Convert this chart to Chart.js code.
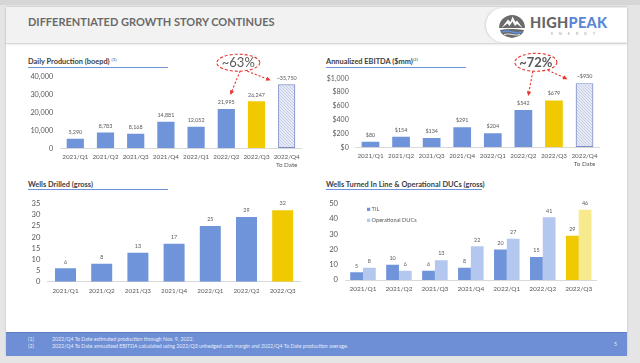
<!DOCTYPE html>
<html><head><meta charset="utf-8">
<script src="https://cdn.jsdelivr.net/npm/chart.js@4.4.0/dist/chart.umd.min.js"></script>
<style>
html,body{margin:0;padding:0;}
body{width:640px;height:363px;background:#e5e5e5;position:relative;overflow:hidden;font-family:Lato,"Liberation Sans",sans-serif;}
.abs{position:absolute;}
#topstrip{left:0;top:0;width:640px;height:5px;background:#d6d6d6;}
#slide{left:6px;top:7px;width:621px;height:348px;background:#fff;box-shadow:0 0 2px rgba(0,0,0,.18);}
#header{left:6px;top:7px;width:621px;height:36px;background:#f2f2f2;border-bottom:1px solid #d8d8d8;box-shadow:0 1px 2px rgba(0,0,0,.08);}
#title{left:28px;top:14px;font-weight:700;font-size:11px;color:#6a6a6a;white-space:nowrap;line-height:15px;}
#logo{left:486px;top:8px;width:141px;height:34px;background:#fff;border-radius:17px 0 0 17px;box-shadow:-1px 0 2px rgba(0,0,0,.12);}
#logotext{left:530px;top:15px;font-weight:900;font-size:14.5px;line-height:16px;white-space:nowrap;letter-spacing:0.3px;}
#energy{left:551px;top:31px;font-size:3.6px;letter-spacing:6px;color:#9a9a9a;white-space:nowrap;}
.ct{font-weight:700;font-size:7.4px;color:#404040;white-space:nowrap;line-height:10px;}
.ct sup{font-size:4.5px;font-weight:400;vertical-align:3px;line-height:0;}
.ul{height:1.3px;background:#7093d9;}
#footer{left:6px;top:332px;width:621px;height:23px;background:#6e8fd5;border-top:1px solid #5f7fc4;}
.fn{font-size:5.2px;color:#e6ecf8;white-space:nowrap;line-height:7px;}
canvas{position:absolute;}
</style></head>
<body>
<div class="abs" id="topstrip"></div>
<div class="abs" id="slide"></div>
<div class="abs" id="header"></div>
<div class="abs" id="title">DIFFERENTIATED GROWTH STORY CONTINUES</div>
<div class="abs" id="logo"></div>
<svg class="abs" style="left:496px;top:11px" width="32" height="29" viewBox="0 0 32 29">
  <path d="M3 17 A13 13 0 0 1 29 17 Z" fill="#6b6b6b"/>
  <path d="M5.5 17 L12 8.5 L14.5 11 L16.5 5.5 L19.5 11 L21 9.5 L26.5 17 L21 13 L19 15 L16.5 10.5 L13.5 15 L11.5 12.5 Z" fill="#ffffff"/>
  <path d="M4 19 Q16 17 28 19 Q27 25 16 27 Q5 25 4 19 Z" fill="#6b6b6b"/>
  <path d="M6 21 Q11 19.5 16 21 Q21 22.5 26 21" stroke="#5b8fe0" stroke-width="1.6" fill="none"/>
  <path d="M8 23.5 Q12 22.3 16 23.5 Q20 24.7 24 23.5" stroke="#ffffff" stroke-width="0.8" fill="none"/>
</svg>
<div class="abs" id="logotext"><span style="color:#666">HIGH</span><span style="color:#5a86d6">PEAK</span></div>
<div class="abs" id="energy">ENERGY</div>

<div class="abs ct" style="left:28px;top:57px">Daily Production (boepd) <sup>(1)</sup></div>
<div class="abs ul" style="left:28px;top:66.5px;width:140px"></div>
<div class="abs ct" style="left:326px;top:57px">Annualized EBITDA ($mm)<sup>(2)</sup></div>
<div class="abs ul" style="left:326px;top:66.5px;width:140px"></div>
<div class="abs ct" style="left:28px;top:179.5px">Wells Drilled (gross)</div>
<div class="abs ul" style="left:28px;top:189px;width:140px"></div>
<div class="abs ct" style="left:326px;top:179.5px">Wells Turned In Line &amp; Operational DUCs (gross)</div>
<div class="abs ul" style="left:326px;top:189px;width:156px"></div>

<div class="abs" id="footer"></div>
<div class="abs fn" style="left:28px;top:336px">(1)</div>
<div class="abs fn" style="left:52px;top:336px">2022/Q4 To Date estimated production through Nov. 9, 2022.</div>
<div class="abs fn" style="left:28px;top:342.5px">(2)</div>
<div class="abs fn" style="left:52px;top:342.5px">2022/Q4 To Date annualized EBITDA calculated using 2022/Q3 unhedged cash margin and 2022/Q4 To Date production average.</div>
<div class="abs fn" style="left:614px;top:340.5px">5</div>

<canvas id="c1" width="300" height="125" style="left:10px;top:50px"></canvas>
<canvas id="c2" width="300" height="125" style="left:310px;top:50px"></canvas>
<canvas id="c3" width="300" height="110" style="left:10px;top:192px"></canvas>
<canvas id="c4" width="300" height="110" style="left:310px;top:192px"></canvas>

<script>
// ---------------- DATA ----------------
const quarters8 = ['2021/Q1','2021/Q2','2021/Q3','2021/Q4','2022/Q1','2022/Q2','2022/Q3',['2022/Q4','To Date']];
const quarters7 = ['2021/Q1','2021/Q2','2021/Q3','2021/Q4','2022/Q1','2022/Q2','2022/Q3'];

const production = [5290, 8783, 8168, 14881, 12052, 21995, 26247, 35750];
const productionLabels = ['5,290','8,783','8,168','14,881','12,052','21,995','26,247','~35,750'];
const productionTicks = [0, 10000, 20000, 30000, 40000];
const productionTickLabels = ['0','10,000','20,000','30,000','40,000'];

const ebitda = [80, 154, 134, 291, 204, 542, 679, 930];
const ebitdaLabels = ['$80','$154','$134','$291','$204','$542','$679','~$930'];
const ebitdaTicks = [0, 200, 400, 600, 800, 1000];
const ebitdaTickLabels = ['$0','$200','$400','$600','$800','$1,000'];

const wellsDrilled = [6, 8, 13, 17, 25, 29, 32];
const wellsTicks = [0, 5, 10, 15, 20, 25, 30, 35];
const wellsTickLabels = ['0','5','10','15','20','25','30','35'];

const tilWells = [5, 10, 6, 8, 20, 15, 29];
const ducWells = [8, 6, 13, 22, 27, 41, 46];
const tilTicks = [0, 10, 20, 30, 40, 50];
const tilTickLabels = ['0','10','20','30','40','50'];

const growthProduction = '~63%';
const growthEbitda = '~72%';

// ---------------- STYLE ----------------
const BLUE = '#7094d9', YELLOW = '#f0c900', LBLUE = '#b4c7ee', LYELLOW = '#f6ea8c';
const RED = '#e8342e', TXT = '#595959';
Chart.defaults.font.family = 'Lato, "Liberation Sans", sans-serif';
Chart.defaults.color = TXT;
Chart.defaults.animation = false;

function hatchPattern() {
  const c = document.createElement('canvas'); c.width = 3; c.height = 3;
  const g = c.getContext('2d');
  g.fillStyle = '#e8ebf5'; g.fillRect(0,0,3,3);
  g.fillStyle = '#c5cce6';
  g.fillRect(0,0,1,1); g.fillRect(1,1,1,1); g.fillRect(2,2,1,1);
  return g.createPattern(c, 'repeat');
}
const HATCH = hatchPattern();

function makeValueLabels(labelSets, offset, size) {
  return { id: 'valueLabels', afterDatasetsDraw(chart) {
    const ctx = chart.ctx; ctx.save();
    ctx.font = size + 'px Lato, "Liberation Sans", sans-serif';
    ctx.fillStyle = TXT; ctx.textAlign = 'center'; ctx.textBaseline = 'middle';
    chart.data.datasets.forEach((ds, di) => {
      chart.getDatasetMeta(di).data.forEach((bar, i) => {
        ctx.fillText(labelSets[di][i], bar.x, bar.y - offset);
      });
    });
    ctx.restore();
  }};
}

function makeCallout(cfg) {
  return { id: 'callout', afterDraw(chart) {
    const ctx = chart.ctx, xs = chart.scales.x, ys = chart.scales.y, area = chart.chartArea;
    const cx = xs.getPixelForValue(cfg.anchor) + cfg.dx;
    const cy = area.top + cfg.dy;
    ctx.save();
    ctx.strokeStyle = RED; ctx.lineWidth = 1.1;
    ctx.setLineDash([3, 2]);
    ctx.beginPath(); ctx.ellipse(cx, cy, cfg.rx, cfg.ry, 0, 0, Math.PI * 2); ctx.stroke();
    cfg.arrows.forEach(a => {
      const sx = cx + a.sx, sy = cy + a.sy;
      const tx = xs.getPixelForValue(a.index) + a.tx;
      const ty = ys.getPixelForValue(cfg.values[a.index]) + a.ty;
      const ang = Math.atan2(ty - sy, tx - sx);
      const ex = tx - 3.5 * Math.cos(ang), ey = ty - 3.5 * Math.sin(ang);
      ctx.setLineDash([2.2, 1.8]);
      ctx.beginPath(); ctx.moveTo(sx, sy); ctx.lineTo(ex, ey); ctx.stroke();
      ctx.setLineDash([]);
      ctx.fillStyle = RED;
      ctx.beginPath();
      ctx.moveTo(tx, ty);
      ctx.lineTo(tx - 4.5 * Math.cos(ang) + 2.2 * Math.sin(ang), ty - 4.5 * Math.sin(ang) - 2.2 * Math.cos(ang));
      ctx.lineTo(tx - 4.5 * Math.cos(ang) - 2.2 * Math.sin(ang), ty - 4.5 * Math.sin(ang) + 2.2 * Math.cos(ang));
      ctx.closePath(); ctx.fill();
    });
    ctx.fillStyle = TXT;
    ctx.font = (cfg.bold ? '700 ' : '400 ') + '13px Lato, "Liberation Sans", sans-serif';
    ctx.textAlign = 'center'; ctx.textBaseline = 'middle';
    ctx.fillText(cfg.text, cx, cy + 0.5);
    ctx.restore();
  }};
}

function makeLegend(items) {
  return { id: 'miniLegend', afterDraw(chart) {
    const ctx = chart.ctx, area = chart.chartArea;
    ctx.save();
    ctx.font = '5.6px Lato, "Liberation Sans", sans-serif';
    ctx.textBaseline = 'middle'; ctx.textAlign = 'left';
    items.forEach((it, i) => {
      const x = area.left + 22, y = area.top + 5.8 + i * 11;
      ctx.fillStyle = it.color; ctx.fillRect(x, y - 1.6, 3.2, 3.2);
      ctx.fillStyle = TXT; ctx.fillText(it.label, x + 4.6, y);
    });
    ctx.restore();
  }};
}

function yAxis(min, max, ticks, tickLabels, width, pad, size) {
  return {
    min: min, max: max,
    afterBuildTicks: s => { s.ticks = ticks.map(v => ({ value: v })); },
    afterFit: s => { s.width = width; },
    grid: { display: false, drawTicks: false },
    border: { display: false },
    ticks: { padding: pad, autoSkip: false, font: { size: size }, color: TXT, callback: (v, i) => tickLabels[i] }
  };
}
function xAxis(height, pad, size) {
  return {
    afterFit: s => { s.height = height; },
    grid: { display: false, drawTicks: false },
    border: { display: true, color: '#d9d9d9', width: 1 },
    ticks: { padding: pad, font: { size: size, lineHeight: 1.15 }, color: TXT, maxRotation: 0, autoSkip: false }
  };
}

// ---------------- CHART 1: Daily Production ----------------
const prodColors = [BLUE, BLUE, BLUE, BLUE, BLUE, BLUE, YELLOW, HATCH];
const prodBorders = [0, 0, 0, 0, 0, 0, 0, 1.2];
new Chart(document.getElementById('c1'), {
  type: 'bar',
  data: { labels: quarters8, datasets: [{ data: production, backgroundColor: prodColors,
    borderColor: '#7d8ec9', borderWidth: prodBorders, borderSkipped: false,
    barPercentage: 0.57, categoryPercentage: 1 }] },
  options: {
    responsive: false,
    layout: { padding: { left: 0, right: 8.2, top: 26.7, bottom: 0 } },
    plugins: { legend: { display: false }, tooltip: { enabled: false } },
    scales: { x: xAxis(26.7, 5.5, 6.3), y: yAxis(0, 40000, productionTicks, productionTickLabels, 50.2, 7, 7.3) }
  },
  plugins: [makeValueLabels([productionLabels], 6.3, 5.4),
    makeCallout({ text: growthProduction, bold: false, anchor: 5, dx: 12, dy: -14, rx: 21.5, ry: 8.5, values: production,
      arrows: [{ sx: 2, sy: 8, index: 5, tx: 4, ty: -14 }, { sx: 9, sy: 8.5, index: 7, tx: -16, ty: -4 }] })]
});

// ---------------- CHART 2: Annualized EBITDA ----------------
const ebitdaColors = [BLUE, BLUE, BLUE, BLUE, BLUE, BLUE, YELLOW, HATCH];
const ebitdaBorders = [0, 0, 0, 0, 0, 0, 0, 1.2];
new Chart(document.getElementById('c2'), {
  type: 'bar',
  data: { labels: quarters8, datasets: [{ data: ebitda, backgroundColor: ebitdaColors,
    borderColor: '#7d8ec9', borderWidth: ebitdaBorders, borderSkipped: false,
    barPercentage: 0.58, categoryPercentage: 1 }] },
  options: {
    responsive: false,
    layout: { padding: { left: 0, right: 10.2, top: 28.3, bottom: 0 } },
    plugins: { legend: { display: false }, tooltip: { enabled: false } },
    scales: { x: xAxis(27.7, 5.5, 6.3), y: yAxis(0, 1000, ebitdaTicks, ebitdaTickLabels, 45.2, 6.5, 7) }
  },
  plugins: [makeValueLabels([ebitdaLabels], 6.8, 5.4),
    makeCallout({ text: growthEbitda, bold: true, anchor: 5, dx: 12.5, dy: -16, rx: 21, ry: 9, values: ebitda,
      arrows: [{ sx: -3, sy: 9, index: 5, tx: 4.8, ty: -14 }, { sx: 12, sy: 8, index: 7, tx: -17, ty: -4 }] })]
});

// ---------------- CHART 3: Wells Drilled ----------------
const wellsColors = [BLUE, BLUE, BLUE, BLUE, BLUE, BLUE, YELLOW];
new Chart(document.getElementById('c3'), {
  type: 'bar',
  data: { labels: quarters7, datasets: [{ data: wellsDrilled, backgroundColor: wellsColors,
    barPercentage: 0.58, categoryPercentage: 1 }] },
  options: {
    responsive: false,
    layout: { padding: { left: 0, right: 9.2, top: 7, bottom: 0 } },
    plugins: { legend: { display: false }, tooltip: { enabled: false } },
    scales: { x: xAxis(20.3, 6, 6.3), y: yAxis(0, 35, wellsTicks, wellsTickLabels, 37.4, 7, 7.6) }
  },
  plugins: [makeValueLabels([wellsDrilled.map(String)], 6.5, 5.4)]
});

// ---------------- CHART 4: TIL & Operational DUCs ----------------
const tilColors = [BLUE, BLUE, BLUE, BLUE, BLUE, BLUE, YELLOW];
const ducColors = [LBLUE, LBLUE, LBLUE, LBLUE, LBLUE, LBLUE, LYELLOW];
new Chart(document.getElementById('c4'), {
  type: 'bar',
  data: { labels: quarters7, datasets: [
    { label: 'TIL', data: tilWells, backgroundColor: tilColors, barPercentage: 1, categoryPercentage: 0.71 },
    { label: 'Operational DUCs', data: ducWells, backgroundColor: ducColors, barPercentage: 1, categoryPercentage: 0.71 }
  ] },
  options: {
    responsive: false,
    layout: { padding: { left: 0, right: 13.3, top: 9, bottom: 0 } },
    plugins: { legend: { display: false }, tooltip: { enabled: false } },
    scales: { x: xAxis(22, 5.5, 6.5), y: yAxis(0, 50, tilTicks, tilTickLabels, 35, 7, 7.6) }
  },
  plugins: [makeValueLabels([tilWells.map(String), ducWells.map(String)], 6.4, 5.4),
    makeLegend([{ label: 'TIL', color: BLUE }, { label: 'Operational DUCs', color: LBLUE }])]
});
</script>
</body></html>
